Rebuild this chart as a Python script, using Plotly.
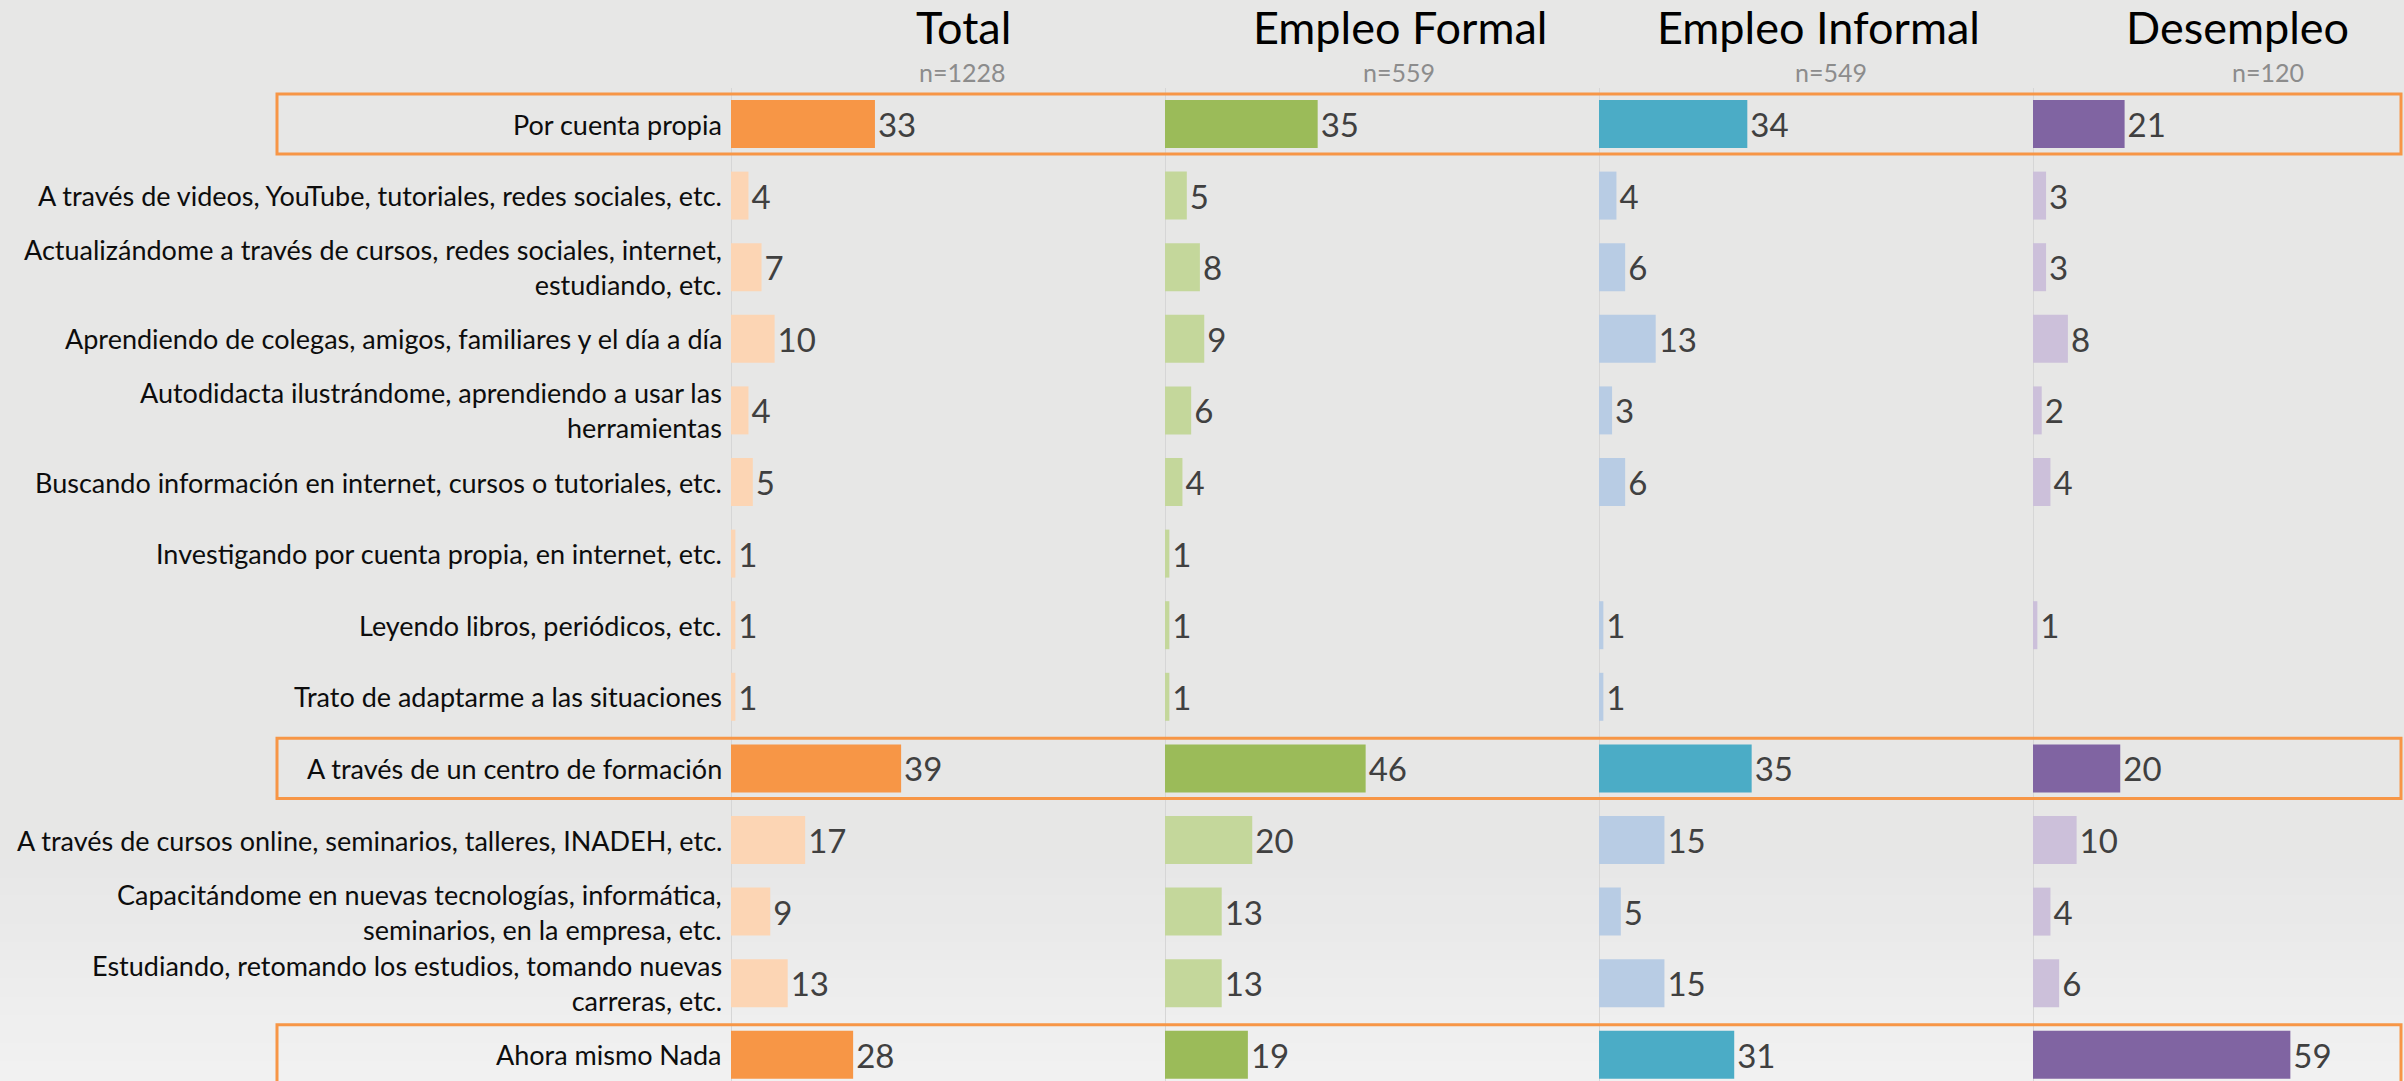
import plotly.graph_objects as go

categories = [
    "Por cuenta propia",
    "A través de videos, YouTube, tutoriales, redes sociales, etc.",
    "Actualizándome a través de cursos, redes sociales, internet,<br>estudiando, etc.",
    "Aprendiendo de colegas, amigos, familiares y el día a día",
    "Autodidacta ilustrándome, aprendiendo a usar las<br>herramientas",
    "Buscando información en internet, cursos o tutoriales, etc.",
    "Investigando por cuenta propia, en internet, etc.",
    "Leyendo libros, periódicos, etc.",
    "Trato de adaptarme a las situaciones",
    "A través de un centro de formación",
    "A través de cursos online, seminarios, talleres, INADEH, etc.",
    "Capacitándome en nuevas tecnologías, informática,<br>seminarios, en la empresa, etc.",
    "Estudiando, retomando los estudios, tomando nuevas<br>carreras, etc.",
    "Ahora mismo Nada",
]
highlight = [0, 9, 13]

groups = ["Total", "Empleo Formal", "Empleo Informal", "Desempleo"]
sample_sizes = ["n=1228", "n=559", "n=549", "n=120"]

total = [33, 4, 7, 10, 4, 5, 1, 1, 1, 39, 17, 9, 13, 28]
formal = [35, 5, 8, 9, 6, 4, 1, 1, 1, 46, 20, 13, 13, 19]
informal = [34, 4, 6, 13, 3, 6, None, 1, 1, 35, 15, 5, 15, 31]
desempleo = [21, 3, 3, 8, 2, 4, None, 1, None, 20, 10, 4, 6, 59]

series = [total, formal, informal, desempleo]
dark_colors = ["#F79646", "#9BBB59", "#4BACC6", "#8064A2"]
light_colors = ["#FCD5B4", "#C4D79B", "#B8CCE4", "#CCC0DA"]

W, H = 2404, 1081
TOP = 88
ROW0 = 124.0
ROWH = 71.6
panel_left_px = [731, 1165, 1599, 2033]
panel_w = 434
unit_px = 4.362

fig = go.Figure()

rows = list(range(len(categories)))
for k, vals in enumerate(series):
    colors = [dark_colors[k] if i in highlight else light_colors[k] for i in rows]
    texts = ["" if v is None else str(v) for v in vals]
    axname = "x" if k == 0 else f"x{k+1}"
    fig.add_trace(go.Bar(
        x=vals, y=rows, orientation="h",
        marker=dict(color=colors, line=dict(width=0)),
        width=0.67,
        text=texts, textposition="outside",
        textfont=dict(family="Lato", size=33, color="#404040"),
        cliponaxis=False,
        xaxis=axname, yaxis="y",
        showlegend=False, hoverinfo="skip",
    ))

layout = dict(
    width=W, height=H,
    margin=dict(l=0, r=0, t=TOP, b=0, pad=0),
    paper_bgcolor="#E7E7E6", plot_bgcolor="rgba(0,0,0,0)",
    bargap=0.33,
    font=dict(family="Lato"),
)
for k in range(4):
    left = panel_left_px[k]
    right = min(left + panel_w, W)
    rng = (right - left) / unit_px
    key = "xaxis" if k == 0 else f"xaxis{k+1}"
    layout[key] = dict(
        domain=[left / W, right / W], range=[0, rng],
        anchor="y", showgrid=False, showticklabels=False, ticks="",
        zeroline=True, zerolinecolor="#D6D6D6", zerolinewidth=1,
        showline=False, fixedrange=True,
    )
plot_h = H - TOP
y_bottom = (H - ROW0) / ROWH
layout["yaxis"] = dict(
    range=[y_bottom, -(ROW0 - TOP) / ROWH], showgrid=False, zeroline=False,
    showticklabels=False, ticks="", showline=False, fixedrange=True,
)
fig.update_layout(**layout)

def py_to_paper(py):
    return (H - py) / plot_h

shapes = []
# background gradient towards the bottom
n_bands = 24
g_start, g_end = 860, H
for i in range(n_bands):
    y0p = g_start + (g_end - g_start) * i / n_bands
    y1p = g_start + (g_end - g_start) * (i + 1) / n_bands
    t = (i + 0.5) / n_bands
    c = int(231 + (242 - 231) * t)
    shapes.append(dict(type="rect", xref="paper", yref="paper", x0=0, x1=1,
                       y0=py_to_paper(y1p), y1=py_to_paper(y0p) + 0.001,
                       fillcolor=f"rgb({c},{c},{c})", line=dict(width=0), layer="below"))
# highlight boxes
for r in highlight:
    shapes.append(dict(type="rect", xref="paper", yref="y",
                       x0=277 / W, x1=2401 / W, y0=r - 0.42, y1=r + 0.42,
                       line=dict(color="#F79646", width=3), fillcolor="rgba(0,0,0,0)",
                       layer="above"))
fig.update_layout(shapes=shapes)

annotations = []
for i, lab in enumerate(categories):
    annotations.append(dict(
        x=724 / W, xref="paper", y=i, yref="y", text=lab, showarrow=False,
        xanchor="right", yanchor="middle", align="right",
        font=dict(family="Lato", size=27, color="#0D0D0D"),
    ))
title_x = [963, 1400, 1818, 2237]
n_x = [1007, 1437, 1869, 2306]
for k in range(4):
    annotations.append(dict(
        x=title_x[k] / W, xref="paper", y=py_to_paper(27), yref="paper",
        text=groups[k], showarrow=False, xanchor="center", yanchor="middle",
        font=dict(family="Lato", size=45, color="#000000"),
    ))
    annotations.append(dict(
        x=n_x[k] / W, xref="paper", y=py_to_paper(72), yref="paper",
        text=sample_sizes[k], showarrow=False, xanchor="right", yanchor="middle",
        font=dict(family="Lato", size=25, color="#8C8C8C"),
    ))
fig.update_layout(annotations=annotations)

fig.write_html("out.html", post_script="document.body.style.margin='0';document.body.style.overflow='hidden';",
               config={"displayModeBar": False})
